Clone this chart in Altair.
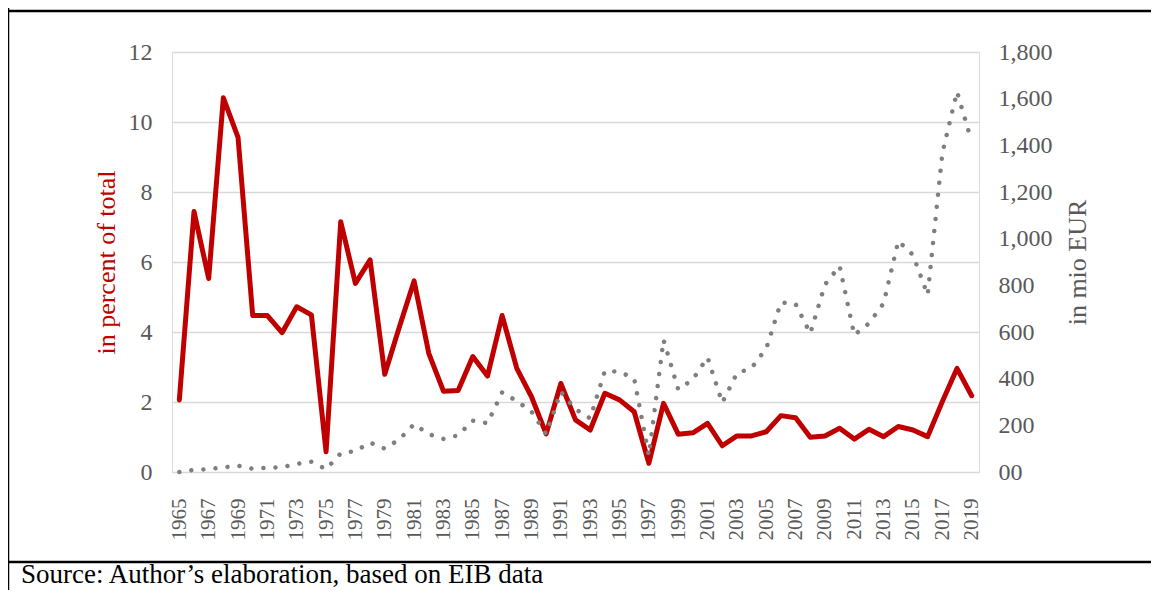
import altair as alt
import pandas as pd

years = list(range(1965, 2020))

share_pct = [2.06, 7.44, 5.53, 10.69, 9.56, 4.47, 4.47, 3.98, 4.72, 4.49,
             0.58, 7.15, 5.39, 6.06, 2.79, 4.15, 5.46, 3.39, 2.31, 2.33,
             3.30, 2.74, 4.47, 2.96, 2.15, 1.09, 2.53, 1.49, 1.20, 2.25,
             2.06, 1.72, 0.25, 1.96, 1.08, 1.12, 1.39, 0.75, 1.03, 1.03,
             1.15, 1.61, 1.55, 0.99, 1.03, 1.25, 0.94, 1.22, 1.01, 1.30,
             1.20, 1.01, 2.01, 2.96, 2.18]

amount_mio_eur = [0, 9, 12, 20, 27, 14, 18, 20, 35, 44,
                  12, 80, 90, 126, 100, 140, 205, 162, 142, 157,
                  220, 209, 341, 304, 259, 163, 344, 269, 230, 433,
                  430, 400, 71, 566, 354, 397, 491, 297, 423, 446,
                  529, 727, 720, 594, 803, 883, 587, 637, 723, 990,
                  930, 759, 1366, 1630, 1416]

left_ticks = [0, 2, 4, 6, 8, 10, 12]
right_ticks = [0, 200, 400, 600, 800, 1000, 1200, 1400, 1600, 1800]
x_label_years = [y for y in years if y % 2 == 1]

source_text = "Source: Author\u2019s elaboration, based on EIB data"

df = pd.DataFrame({"year": years, "pct": share_pct, "eur": amount_mio_eur})

FONT = "Liberation Serif"
GREY_TXT = "#595959"
RED = "#C00000"
W, H = 807, 420
PAD_L, PAD_T = 164, 44
CANVAS_W, CANVAS_H = 1143, 582

x_enc = alt.X(
    "year:O",
    scale=alt.Scale(type="point", padding=0.5),
    axis=alt.Axis(
        values=x_label_years, labelAngle=270, labelAlign="right",
        labelBaseline="middle", labelPadding=26, ticks=False, tickSize=0,
        domain=False, grid=False, title=None, labelFont=FONT, labelFontSize=21,
        labelColor=GREY_TXT, labelOverlap=False,
    ),
)

base = alt.Chart(df)

red = base.mark_line(color=RED, strokeWidth=5, strokeJoin="round", strokeCap="round").encode(
    x=x_enc,
    y=alt.Y(
        "pct:Q",
        scale=alt.Scale(domain=[0, 12], nice=False),
        axis=alt.Axis(
            values=left_ticks, title="in percent of total", titleColor=RED,
            titleFont=FONT, titleFontSize=26, titleFontWeight="normal",
            titleAngle=270, titleX=-66, titleY=H / 2, titleAlign="center",
            titleBaseline="middle", labelFont=FONT, labelFontSize=24,
            labelColor=GREY_TXT, labelPadding=20, domain=False, ticks=False,
            tickSize=0, grid=True, gridColor="#D9D9D9", gridWidth=1.3,
        ),
    ),
)

grey = base.mark_line(color="#7F7F7F", strokeWidth=4.5, strokeCap="round",
                      strokeDash=[0.01, 12.1]).encode(
    x=x_enc,
    y=alt.Y(
        "eur:Q",
        scale=alt.Scale(domain=[0, 1800], nice=False),
        axis=alt.Axis(
            orient="right", values=right_ticks,
            labelExpr="datum.value == 0 ? '00' : format(datum.value, ',')",
            title="in mio EUR", titleColor=GREY_TXT, titleFont=FONT,
            titleFontSize=26, titleFontWeight="normal", titleAngle=270,
            titleX=98, titleY=H / 2, titleAlign="center", titleBaseline="middle",
            labelFont=FONT, labelFontSize=24, labelColor=GREY_TXT,
            labelPadding=19, domain=False, ticks=False, tickSize=0, grid=False,
        ),
    ),
)

one = pd.DataFrame({"a": [0]})
frame_top = alt.Chart(one).mark_rule(color="black", strokeWidth=2.5).encode(
    x=alt.value(-PAD_L), x2=alt.value(CANVAS_W - PAD_L), y=alt.value(3 - PAD_T))
frame_bottom = alt.Chart(one).mark_rule(color="black", strokeWidth=2.5).encode(
    x=alt.value(-PAD_L), x2=alt.value(CANVAS_W - PAD_L), y=alt.value(554 - PAD_T))
frame_left = alt.Chart(one).mark_rule(color="black", strokeWidth=2.5).encode(
    x=alt.value(0 - PAD_L), y=alt.value(-PAD_T), y2=alt.value(CANVAS_H - PAD_T))
source = alt.Chart(one).mark_text(
    text=source_text, align="left", baseline="alphabetic", font=FONT,
    fontSize=27, color="black").encode(
    x=alt.value(13 - PAD_L), y=alt.value(575 - PAD_T))

chart = alt.layer(red, grey, frame_top, frame_bottom, frame_left, source).resolve_scale(
    y="independent"
).properties(
    width=W, height=H,
    autosize=alt.AutoSizeParams(type="none"),
    padding={"left": PAD_L, "top": PAD_T, "right": CANVAS_W - PAD_L - W,
             "bottom": CANVAS_H - PAD_T - H},
).configure_view(stroke=None).configure(background="white")

chart.save("out.html", embed_options={"renderer": "svg", "actions": False})
